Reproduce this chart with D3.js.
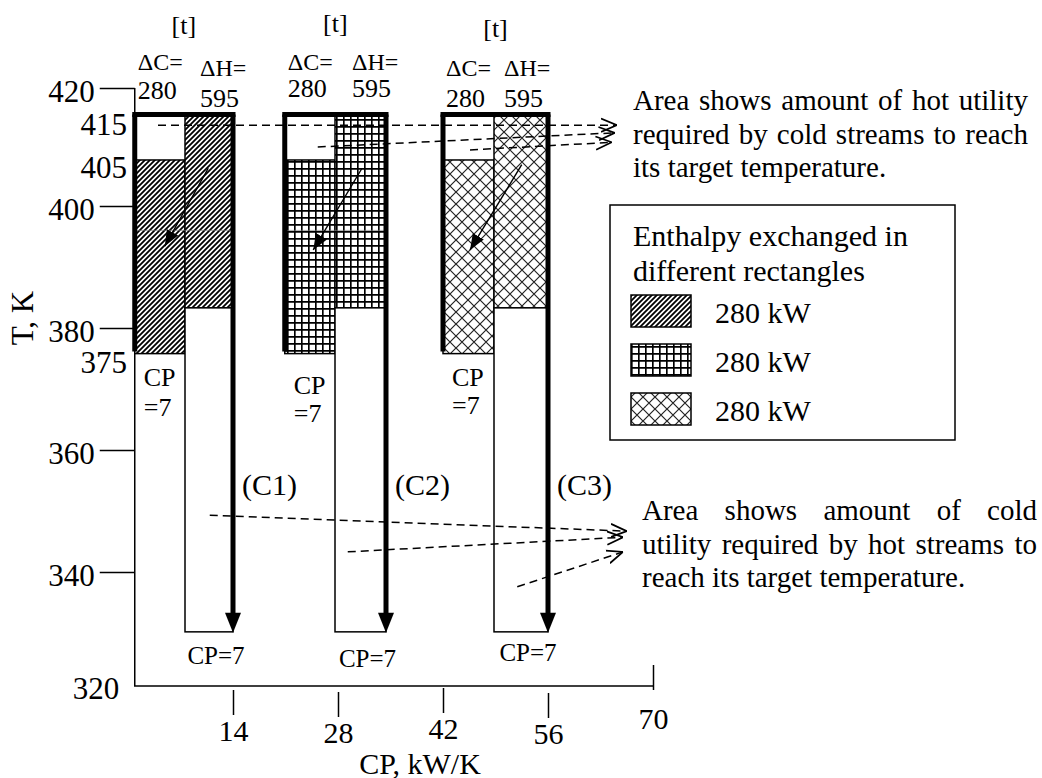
<!DOCTYPE html>
<html>
<head>
<meta charset="utf-8">
<script src="https://cdn.jsdelivr.net/npm/d3@7"></script>
<style>
  body { margin: 0; background: #fff; }
  text { font-family: "Liberation Serif", "Times New Roman", serif; fill: #000; }
</style>
</head>
<body>
<svg id="chart" width="1042" height="778"></svg>
<script>
// ---- data ----
var streams = ["(C1)", "(C2)", "(C3)"];
var coldStartCP = [0.9, 20.9, 42];
var hotStartCP = [7.6, 27.6, 48.8];
var hotEndCP = [14, 34.4, 56];
var deltaC = [280, 280, 280];
var deltaH = [595, 595, 595];
var coldCP = [7, 7, 7];
var hotCP = [7, 7, 7];
var hatchNames = ["diag", "grid", "cross"];
var legendKW = [280, 280, 280];

var topT = 415.5;       // top of both columns
var coldShiftT = 407.8; // cold column: white above, hatched below
var coldEndT = 375.8;   // bottom of cold hatched part
var hotShiftT = 383.3;  // hot column: hatched above, white below
var hotEndT = 329.5;    // bottom of hot column
var tableRuleT = 396;   // faint rule left over from the table cells

var tempTicks = [340, 360, 380, 400, 420];
var cpTicks = [14, 28, 42, 56, 70];
var tempMarks = [415, 405, 375];

// heat transfer arrows inside each rectangle, [CP, T]
var transferFrom = [[10.7, 406.4], [31.2, 406.4], [52.5, 407]];
var transferTo = [[4.9, 393.4], [24.7, 392.8], [45.6, 392.8]];

// dashed pointers to the two notes, [CP, T]
var hotUtilFrom = [[4, 413.7], [25.3, 410], [45.6, 409.5]];
var hotUtilTo = [[65.2, 413.7], [64.9, 412.4], [64.5, 410.8]];
var coldUtilFrom = [[10.9, 349.3], [29.3, 343.3], [51.9, 337.4]];
var coldUtilTo = [[66.5, 346.7], [66, 345.7], [66, 343.3]];

var hotNote = ["Area shows amount of hot utility", "required by cold streams to reach", "its target temperature."];
var coldNote = ["Area shows amount of cold", "utility required by hot streams to", "reach its target temperature."];
var legendTitle = ["Enthalpy exchanged in", "different rectangles"];

// ---- scales ----
var svg = d3.select("#chart");
var x = d3.scaleLinear().domain([0, 70]).range([128, 653]);
// the drawing's temperature axis is not evenly spaced, so a piecewise scale
var y = d3.scaleLinear()
    .domain([320, 340, 360, 380, 400, 420])
    .range([686, 572, 450, 328, 206, 88]);

var axisX = x(coldStartCP[0]);
var axisY = y(320);

// ---- patterns & markers ----
var defs = svg.append("defs");

var diag = defs.append("pattern").attr("id", "diag")
    .attr("patternUnits", "userSpaceOnUse").attr("width", 5).attr("height", 5);
diag.append("rect").attr("width", 5).attr("height", 5).attr("fill", "#fff");
diag.append("path").attr("d", "M-1,1 l2,-2 M0,5 l5,-5 M4,6 l2,-2")
    .attr("stroke", "#000").attr("stroke-width", 1.8);

var grid = defs.append("pattern").attr("id", "grid")
    .attr("patternUnits", "userSpaceOnUse").attr("width", 7).attr("height", 7);
grid.append("rect").attr("width", 7).attr("height", 7).attr("fill", "#fff");
grid.append("path").attr("d", "M0,0.8 H7 M0.8,0 V7")
    .attr("stroke", "#000").attr("stroke-width", 1.7);

var cross = defs.append("pattern").attr("id", "cross")
    .attr("patternUnits", "userSpaceOnUse").attr("width", 12).attr("height", 12);
cross.append("rect").attr("width", 12).attr("height", 12).attr("fill", "#fff");
cross.append("path").attr("d", "M0,0 L12,12 M12,0 L0,12")
    .attr("stroke", "#222").attr("stroke-width", 1.2);

defs.append("marker").attr("id", "solidHead")
    .attr("viewBox", "0 -5 10 10").attr("refX", 10).attr("refY", 0)
    .attr("markerUnits", "userSpaceOnUse")
    .attr("markerWidth", 16).attr("markerHeight", 16)
    .attr("orient", "auto")
  .append("path").attr("d", "M0,-4L10,0L0,4Z").attr("fill", "#000");

defs.append("marker").attr("id", "openHead")
    .attr("viewBox", "0 -6 12 12").attr("refX", 12).attr("refY", 0)
    .attr("markerUnits", "userSpaceOnUse")
    .attr("markerWidth", 16).attr("markerHeight", 16)
    .attr("orient", "auto")
  .append("path").attr("d", "M0,-5L12,0L0,5")
    .attr("fill", "none").attr("stroke", "#000").attr("stroke-width", 1.3);

// ---- axes ----
svg.append("path")
    .attr("d", "M" + axisX + "," + y(420) + "V" + axisY + "H" + x(70))
    .attr("fill", "none").attr("stroke", "#000").attr("stroke-width", 1.5);

var yAxis = svg.append("g")
    .attr("transform", "translate(" + axisX + ",0)")
    .call(d3.axisLeft(y).tickValues(tempTicks).tickSize(35).tickPadding(5));
yAxis.select(".domain").remove();
yAxis.selectAll(".tick line").attr("stroke-width", 1.5);
yAxis.selectAll(".tick text")
    .attr("dy", "0.45em")
    .style("font-size", "31px").style("font-family", "Liberation Serif");

svg.append("text").attr("x", 96).attr("y", y(320) + 2).attr("dy", "0.35em")
    .attr("text-anchor", "middle").style("font-size", "31px").text("320");

var xAxis = svg.append("g")
    .attr("transform", "translate(0," + (axisY + 4) + ")")
    .call(d3.axisBottom(x).tickValues(cpTicks).tickSize(25).tickPadding(5));
xAxis.select(".domain").remove();
xAxis.selectAll(".tick line").attr("stroke-width", 1.5);
xAxis.selectAll(".tick text")
    .style("font-size", "30px").style("font-family", "Liberation Serif");
// the hand-placed ticks are not all on one line; the last one sits higher
var tickLift = {14: 0, 28: 2, 42: -2, 56: 3, 70: -25};
var labelLift = {14: 0, 28: 2, 42: -2, 56: 3, 70: -12};
xAxis.selectAll(".tick line")
    .attr("transform", function(d) { return "translate(0," + tickLift[d] + ")"; });
xAxis.selectAll(".tick text")
    .attr("transform", function(d) { return "translate(0," + labelLift[d] + ")"; });

svg.append("text")
    .attr("transform", "translate(22," + 318 + ") rotate(-90)")
    .attr("text-anchor", "middle").attr("dy", "0.35em")
    .style("font-size", "31px").text("T, K");

svg.append("text").attr("x", 420).attr("y", 763).attr("dy", "0.35em")
    .attr("text-anchor", "middle").style("font-size", "30px").text("CP, kW/K");

// temperature marks next to the rectangles
var markShift = {415: 7, 405: -9, 375: 4};
svg.selectAll(".tmark")
    .data(tempMarks)
  .enter()
    .append("text")
    .attr("class", "tmark")
    .attr("x", 127)
    .attr("y", function(d) { return y(d) + markShift[d]; })
    .attr("dy", "0.35em")
    .attr("text-anchor", "end")
    .style("font-size", "31px")
    .text(function(d) { return d; });

// ---- composite rectangles, one group per stream ----
var labelY = [
    {t: 25, c: [62, 90], h: [68, 98], cp: [377, 407], bottom: 655},
    {t: 23, c: [62, 88], h: [62, 88], cp: [385, 413], bottom: 658},
    {t: 28, c: [68, 98], h: [68, 98], cp: [377, 405], bottom: 652}
];
var hotLabelShift = [15, 17, 10];

var groups = svg.selectAll(".stream")
    .data(streams)
  .enter()
    .append("g")
    .attr("class", "stream");

groups.each(function(name, i) {
    var g = d3.select(this);
    var cL = x(coldStartCP[i]), hL = x(hotStartCP[i]), hR = x(hotEndCP[i]);
    var fill = "url(#" + hatchNames[i] + ")";

    // cold column
    g.append("rect")
        .attr("x", cL).attr("y", y(coldShiftT))
        .attr("width", hL - cL).attr("height", y(coldEndT) - y(coldShiftT))
        .attr("fill", fill).attr("stroke", "#000").attr("stroke-width", 1.5);

    // hot column
    g.append("rect")
        .attr("x", hL).attr("y", y(topT))
        .attr("width", hR - hL).attr("height", y(hotShiftT) - y(topT))
        .attr("fill", fill).attr("stroke", "#000").attr("stroke-width", 1.5);
    g.append("rect")
        .attr("x", hL).attr("y", y(hotShiftT))
        .attr("width", hR - hL).attr("height", y(hotEndT) - y(hotShiftT))
        .attr("fill", "#fff").attr("stroke", "#000").attr("stroke-width", 1.5);

    if (i < 2) {
        g.append("line")
            .attr("x1", cL).attr("x2", hR)
            .attr("y1", y(tableRuleT)).attr("y2", y(tableRuleT))
            .attr("stroke", "#777").attr("stroke-width", 1).attr("opacity", 0.6);
    }

    // thick outline: left, top, and the hot stream arrow on the right
    g.append("line")
        .attr("x1", cL).attr("x2", cL)
        .attr("y1", y(topT)).attr("y2", y(coldEndT) - 2)
        .attr("stroke", "#000").attr("stroke-width", 5);
    g.append("line")
        .attr("x1", cL - 2.5).attr("x2", hR + 2.5)
        .attr("y1", y(topT)).attr("y2", y(topT))
        .attr("stroke", "#000").attr("stroke-width", 5);
    var tip = y(hotEndT) + 1;
    g.append("line")
        .attr("x1", hR).attr("x2", hR)
        .attr("y1", y(topT)).attr("y2", tip - 16)
        .attr("stroke", "#000").attr("stroke-width", 5);
    g.append("path")
        .attr("d", "M" + (hR - 8) + "," + (tip - 20) + "L" + (hR + 8) + "," + (tip - 20) +
            "L" + hR + "," + tip + "Z")
        .attr("fill", "#000");

    // heat transfer arrow
    g.append("line")
        .attr("x1", x(transferFrom[i][0])).attr("y1", y(transferFrom[i][1]))
        .attr("x2", x(transferTo[i][0])).attr("y2", y(transferTo[i][1]))
        .attr("stroke", "#000").attr("stroke-width", 1.4)
        .attr("marker-end", "url(#solidHead)");

    // labels
    var ly = labelY[i];
    g.append("text").attr("x", (cL + hR) / 2).attr("y", ly.t).attr("dy", "0.35em")
        .attr("text-anchor", "middle").style("font-size", "26px").text("[t]");
    g.append("text").attr("x", cL + 3).attr("y", ly.c[0]).attr("dy", "0.35em")
        .style("font-size", "24px").text("\u0394C=");
    g.append("text").attr("x", cL + 3).attr("y", ly.c[1]).attr("dy", "0.35em")
        .style("font-size", "26px").text(deltaC[i]);
    g.append("text").attr("x", hL + hotLabelShift[i]).attr("y", ly.h[0]).attr("dy", "0.35em")
        .style("font-size", "24px").text("\u0394H=");
    g.append("text").attr("x", hL + hotLabelShift[i]).attr("y", ly.h[1]).attr("dy", "0.35em")
        .style("font-size", "26px").text(deltaH[i]);

    g.append("text").attr("x", cL + 9).attr("y", ly.cp[0]).attr("dy", "0.35em")
        .style("font-size", "26px").text("CP");
    g.append("text").attr("x", cL + 9).attr("y", ly.cp[1]).attr("dy", "0.35em")
        .style("font-size", "26px").text("=" + coldCP[i]);
    g.append("text").attr("x", (hL + hR) / 2 + 7).attr("y", ly.bottom).attr("dy", "0.35em")
        .attr("text-anchor", "middle").style("font-size", "25px").text("CP=" + hotCP[i]);

    g.append("text").attr("x", hR + 9).attr("y", 484).attr("dy", "0.35em")
        .style("font-size", "30px").text(name);
});

// ---- dashed pointers ----
function pointers(from, to) {
    svg.selectAll(null)
        .data(from)
      .enter()
        .append("line")
        .attr("x1", function(d) { return x(d[0]); })
        .attr("y1", function(d) { return y(d[1]); })
        .attr("x2", function(d, i) { return x(to[i][0]); })
        .attr("y2", function(d, i) { return y(to[i][1]); })
        .attr("stroke", "#000").attr("stroke-width", 1.5)
        .attr("stroke-dasharray", "8,5")
        .attr("marker-end", "url(#openHead)");
}
pointers(hotUtilFrom, hotUtilTo);
pointers(coldUtilFrom, coldUtilTo);

// ---- justified notes ----
function note(lines, x0, y0, width, lineGap, size) {
    var g = svg.append("g");
    lines.forEach(function(line, i) {
        var words = line.split(" ");
        var nodes = words.map(function(w) {
            return g.append("text").attr("y", y0 + i * lineGap).attr("dy", "0.35em")
                .style("font-size", size + "px").text(w);
        });
        var widths = nodes.map(function(n) { return n.node().getComputedTextLength(); });
        var gap = (i < lines.length - 1 && words.length > 1)
            ? (width - d3.sum(widths)) / (words.length - 1)
            : size * 0.25;
        var cx = x0;
        nodes.forEach(function(n, j) { n.attr("x", cx); cx += widths[j] + gap; });
    });
}
note(hotNote, 633, 100, 395, 33.5, 29);
note(coldNote, 642, 510, 395, 33.5, 29);

// ---- legend ----
var legend = svg.append("g");
legend.append("rect")
    .attr("x", 610).attr("y", 205).attr("width", 345).attr("height", 235)
    .attr("fill", "#fff").attr("stroke", "#000").attr("stroke-width", 1.5);
legend.selectAll(".ltitle")
    .data(legendTitle)
  .enter()
    .append("text")
    .attr("x", 633)
    .attr("y", function(d, i) { return 235 + i * 35; })
    .attr("dy", "0.35em")
    .style("font-size", "30px")
    .text(function(d) { return d; });

var rows = legend.selectAll(".lrow")
    .data(legendKW)
  .enter()
    .append("g")
    .attr("transform", function(d, i) { return "translate(631," + (311 + i * 49) + ")"; });
rows.append("rect")
    .attr("x", 0).attr("y", -16).attr("width", 60).attr("height", 32)
    .attr("fill", function(d, i) { return "url(#" + hatchNames[i] + ")"; })
    .attr("stroke", "#000").attr("stroke-width", 1.5);
rows.append("text")
    .attr("x", 84).attr("y", 1).attr("dy", "0.35em")
    .style("font-size", "30px")
    .text(function(d) { return d + " kW"; });
</script>
</body>
</html>
